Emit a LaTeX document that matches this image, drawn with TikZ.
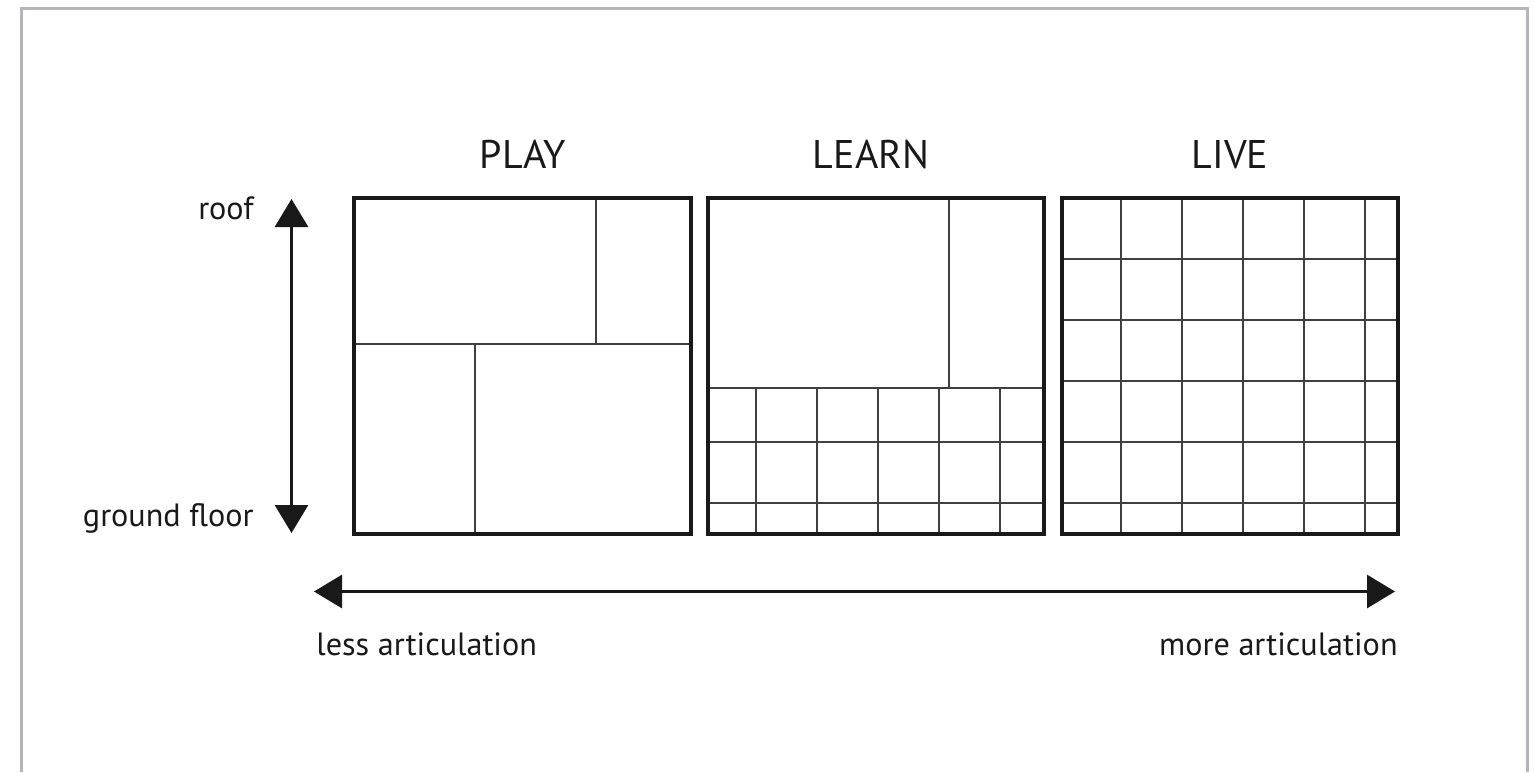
\documentclass[tikz,border=0pt]{standalone}
\usepackage{fontspec}
\setmainfont{PT Sans}
\usetikzlibrary{arrows.meta}
\definecolor{framegray}{RGB}{180,180,186}
\tikzset{
  outer/.style={line width=1.6pt, black!90},
  inner/.style={line width=0.65pt, black!75},
  title/.style={font=\fontsize{20}{24}\selectfont, text=black!90, anchor=base},
  label/.style={font=\fontsize{16.1}{20}\selectfont, text=black!90},
  axis/.style={line width=1.5pt, black!90, {Triangle[width=16.5pt,length=14pt]}-{Triangle[width=16.5pt,length=14pt]}}
}
\begin{document}
\begin{tikzpicture}[x=0.5pt, y=-0.5pt]
    \useasboundingbox (0,0) rectangle (1535,772);
    % Рамка
    \draw[framegray, line width=1.5pt] (21,772) -- (21,8) -- (1527,8) -- (1527,772);
    % Заголовки
    \node[title] (play) at (523,168) {PLAY};
    \node[title] (learn) at (871,168) {LEARN};
    \node[title] (live) at (1230,168) {LIVE};
    % PLAY
    \draw[inner] (354,344) -- (691,344);
    \draw[inner] (596,198) -- (596,344);
    \draw[inner] (475,344) -- (475,534);
    \draw[outer] (354,198) rectangle (691,534);
    % LEARN
    \draw[inner] (708,388) -- (1044,388);
    \draw[inner] (949,198) -- (949,388);
    \foreach \x in {756,817,878,939,1000}
        \draw[inner] (\x,388) -- (\x,534);
    \foreach \y in {442,503}
        \draw[inner] (708,\y) -- (1044,\y);
    \draw[outer] (708,198) rectangle (1044,534);
    % LIVE
    \foreach \x in {1121,1182,1243,1304,1365}
        \draw[inner] (\x,198) -- (\x,534);
    \foreach \y in {259,320,381,442,503}
        \draw[inner] (1062,\y) -- (1398,\y);
    \draw[outer] (1062,198) rectangle (1398,534);
    % Стрелки
    \coordinate (roofend) at (291.5,199);
    \coordinate (groundend) at (291.5,533);
    \coordinate (lessend) at (314,591.5);
    \coordinate (moreend) at (1395,591.5);
    \draw[axis] (groundend) -- (roofend);
    \draw[axis] (lessend) -- (moreend);
    % Подписи
    \node[label, anchor=base east, inner sep=0pt] (roof) at (254,219) {roof};
    \node[label, anchor=base east, inner sep=0pt] (ground) at (254,526) {ground floor};
    \node[label, anchor=base west, inner sep=0pt] (less) at (316,655) {less articulation};
    \node[label, anchor=base east, inner sep=0pt] (more) at (1398,655) {more articulation};
\end{tikzpicture}
\end{document}
